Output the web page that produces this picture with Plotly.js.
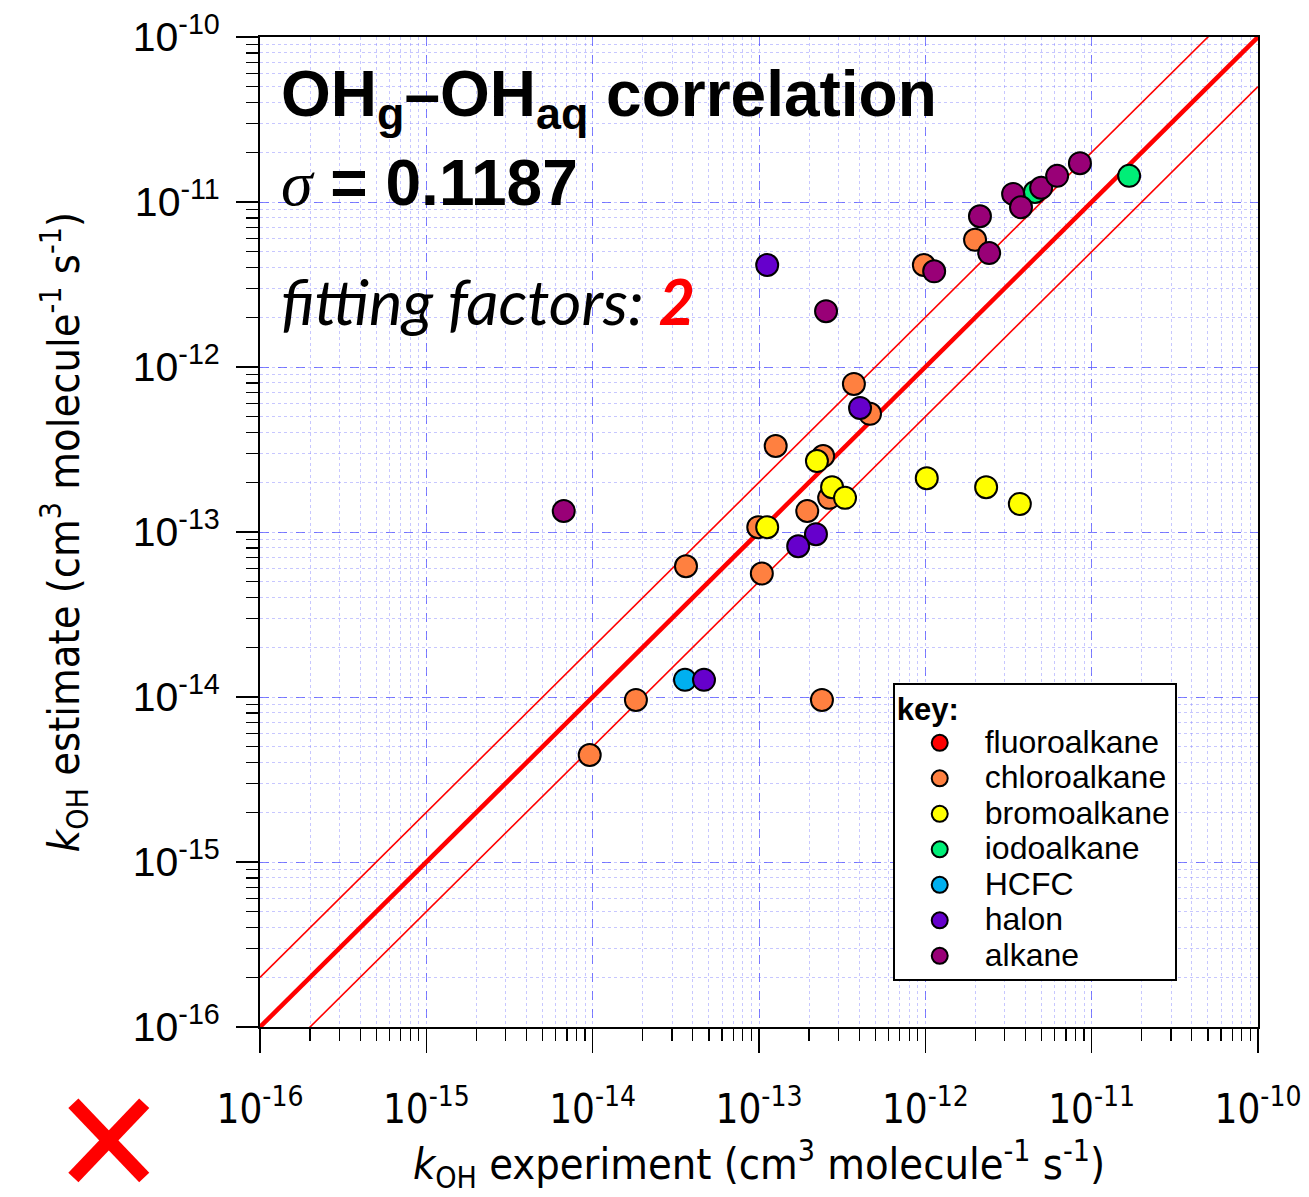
<!DOCTYPE html>
<html>
<head>
<meta charset="utf-8">
<script src="https://cdn.plot.ly/plotly-3.0.1.min.js"></script>
<style>html,body{margin:0;padding:0;background:#fff;}#chart{width:1309px;height:1197px;}</style>
</head>
<body>
<div id="chart"></div>
<script>
// ---- data ----
const categories = ['fluoroalkane','chloroalkane','bromoalkane','iodoalkane','HCFC','halon','alkane'];
const colors = ['#ff0000','#ff8040','#ffff00','#00ee77','#00b0f0','#6600cc','#990077'];

const fluoroX = [];
const fluoroY = [];
const chloroX = [3.72e-13,4.65e-13,1.26e-13,2.43e-13,2.64e-13,1.95e-13,9.9e-14,3.64e-14,1.04e-13,1.82e-14,2.39e-13,9.6e-15,9.8e-13,1.99e-12];
const chloroY = [7.9e-13,5.2e-13,3.32e-13,2.89e-13,1.61e-13,1.34e-13,1.07e-13,6.2e-14,5.6e-14,9.6e-15,9.6e-15,4.45e-15,4.15e-12,5.9e-12];
const bromoX = [2.23e-13,2.75e-13,3.29e-13,1.12e-13,1.02e-12,2.32e-12,3.7e-12];
const bromoY = [2.69e-13,1.87e-13,1.61e-13,1.07e-13,2.12e-13,1.87e-13,1.48e-13];
const iodoX = [1.68e-11,4.56e-12];
const iodoY = [1.44e-11,1.15e-11];
const hcfcX = [3.59e-14];
const hcfcY = [1.27e-14];
const halonX = [1.12e-13,4.05e-13,2.2e-13,1.72e-13,4.67e-14];
const halonY = [4.15e-12,5.65e-13,9.7e-14,8.2e-14,1.27e-14];
const alkaneX = [6.7e-15,2.53e-13,2.13e-12,2.42e-12,1.13e-12,3.37e-12,3.76e-12,4.97e-12,6.2e-12,8.5e-12];
const alkaneY = [1.34e-13,2.18e-12,8.2e-12,4.9e-12,3.8e-12,1.12e-11,9.3e-12,1.22e-11,1.44e-11,1.72e-11];

const fitLineX = [1e-16, 1e-10];
const fitFactor = 2;
const tickVals = [1e-16,1e-15,1e-14,1e-13,1e-12,1e-11,1e-10];
const tickText = ['10<sup>-16</sup>','10<sup>-15</sup>','10<sup>-14</sup>','10<sup>-13</sup>','10<sup>-12</sup>','10<sup>-11</sup>','10<sup>-10</sup>'];

const seriesX = [fluoroX, chloroX, bromoX, iodoX, hcfcX, halonX, alkaneX];
const seriesY = [fluoroY, chloroY, bromoY, iodoY, hcfcY, halonY, alkaneY];

// ---- traces ----
const traces = [];
traces.push({x: fitLineX, y: fitLineX.map(v => v*fitFactor), mode:'lines', line:{color:'#ff0000', width:1.6}, showlegend:false, hoverinfo:'skip'});
traces.push({x: fitLineX, y: fitLineX.map(v => v/fitFactor), mode:'lines', line:{color:'#ff0000', width:1.6}, showlegend:false, hoverinfo:'skip'});
traces.push({x: fitLineX, y: fitLineX.slice(), mode:'lines', line:{color:'#ff0000', width:4.5}, showlegend:false, hoverinfo:'skip'});

categories.forEach((name, i) => {
  const xs = seriesX[i].length ? seriesX[i] : [null];
  const ys = seriesY[i].length ? seriesY[i] : [null];
  traces.push({
    x: xs, y: ys, mode:'markers', type:'scatter',
    name: '<span style="font-size:32px">' + name + '</span>',
    marker:{color: colors[i], size: 22, line:{color:'#000', width:2}}
  });
});

const gridMajor = 'rgba(80,80,255,0.7)';
const gridMinor = 'rgba(130,130,255,0.45)';
const narrowFont = 'Liberation Sans Narrow, DejaVu Sans Condensed, Liberation Sans, sans-serif';

const axisCommon = {
  type:'log', range:[-16,-10], tickmode:'array', tickvals: tickVals, ticktext: tickText,
  showline:true, linecolor:'#000', linewidth:2, mirror:true,
  ticks:'outside', ticklen:24, tickwidth:1.5, tickcolor:'#000',
  showgrid:true, gridcolor: gridMajor, griddash:'dash', gridwidth:1,
  zeroline:false,
  minor:{dtick:'D1', ticks:'outside', ticklen:12, tickwidth:1.2, tickcolor:'#000', showgrid:true, gridcolor: gridMinor, griddash:'dot', gridwidth:1}
};

const layout = {
  width:1309, height:1197,
  margin:{l:260, r:51, t:37, b:170},
  paper_bgcolor:'#fff', plot_bgcolor:'#fff',
  font:{family:'Liberation Sans, Arial, sans-serif', color:'#000'},
  xaxis: Object.assign({}, axisCommon, {
    tickfont:{family: narrowFont, size:40},
    ticklabelstandoff: 22,
    automargin:false,
    title:{text:'<i>k</i><sub>OH</sub> experiment (cm<sup>3</sup> molecule<sup>-1</sup> s<sup>-1</sup>)',
      font:{family: narrowFont, size:43}, standoff: 18}
  }),
  yaxis: Object.assign({}, axisCommon, {
    ticklen:22,
    tickfont:{family:'Liberation Sans, Arial, sans-serif', size:41},
    ticklabelstandoff: 8,
    automargin:'left',
    title:{text:'<i>k</i><sub>OH</sub> estimate (cm<sup>3</sup> molecule<sup>-1</sup> s<sup>-1</sup>)',
      font:{family: narrowFont, size:43}, standoff: 40}
  }),
  legend:{
    x:0.634, y:0.3475, xanchor:'left', yanchor:'top',
    bgcolor:'#fff', bordercolor:'#000', borderwidth:2,
    font:{family:'Liberation Sans, Arial, sans-serif', size:25, color:'#000'},
    title:{text:'<b><span style="font-size:31px">key:</span></b>', font:{size:27}},
    itemwidth:80, tracegroupgap:0
  },
  annotations:[
    {xref:'paper', yref:'paper', x:0.019, y:0.981, xanchor:'left', yanchor:'top', showarrow:false,
     text:'<b>OH<sub>g</sub>–OH<sub>aq</sub> correlation</b>',
     font:{family:'Liberation Sans, Arial, sans-serif', size:64, color:'#000'}},
    {xref:'paper', yref:'paper', x:0.019, y:0.891, xanchor:'left', yanchor:'top', showarrow:false,
     text:'<span style="font-family:Liberation Serif, serif;font-style:italic">σ</span><b> = 0.1187</b>',
     font:{family:'Liberation Sans, Arial, sans-serif', size:64, color:'#000'}},
    {xref:'paper', yref:'paper', x:0.019, y:0.774, xanchor:'left', yanchor:'top', showarrow:false,
     text:'<i>fitting factors: </i><b><i><span style="color:#ff0000">2</span></i></b>',
     font:{family:'Lato, Open Sans, sans-serif', size:63, color:'#000'}}
  ],
  shapes:[
    {type:'line', xref:'paper', yref:'paper', x0:-0.187, y0:-0.077, x1:-0.116, y1:-0.152, line:{color:'#ff0000', width:14}},
    {type:'line', xref:'paper', yref:'paper', x0:-0.116, y0:-0.077, x1:-0.187, y1:-0.152, line:{color:'#ff0000', width:14}}
  ]
};

Plotly.newPlot('chart', traces, layout, {displayModeBar:false, staticPlot:true});
</script>
</body>
</html>
